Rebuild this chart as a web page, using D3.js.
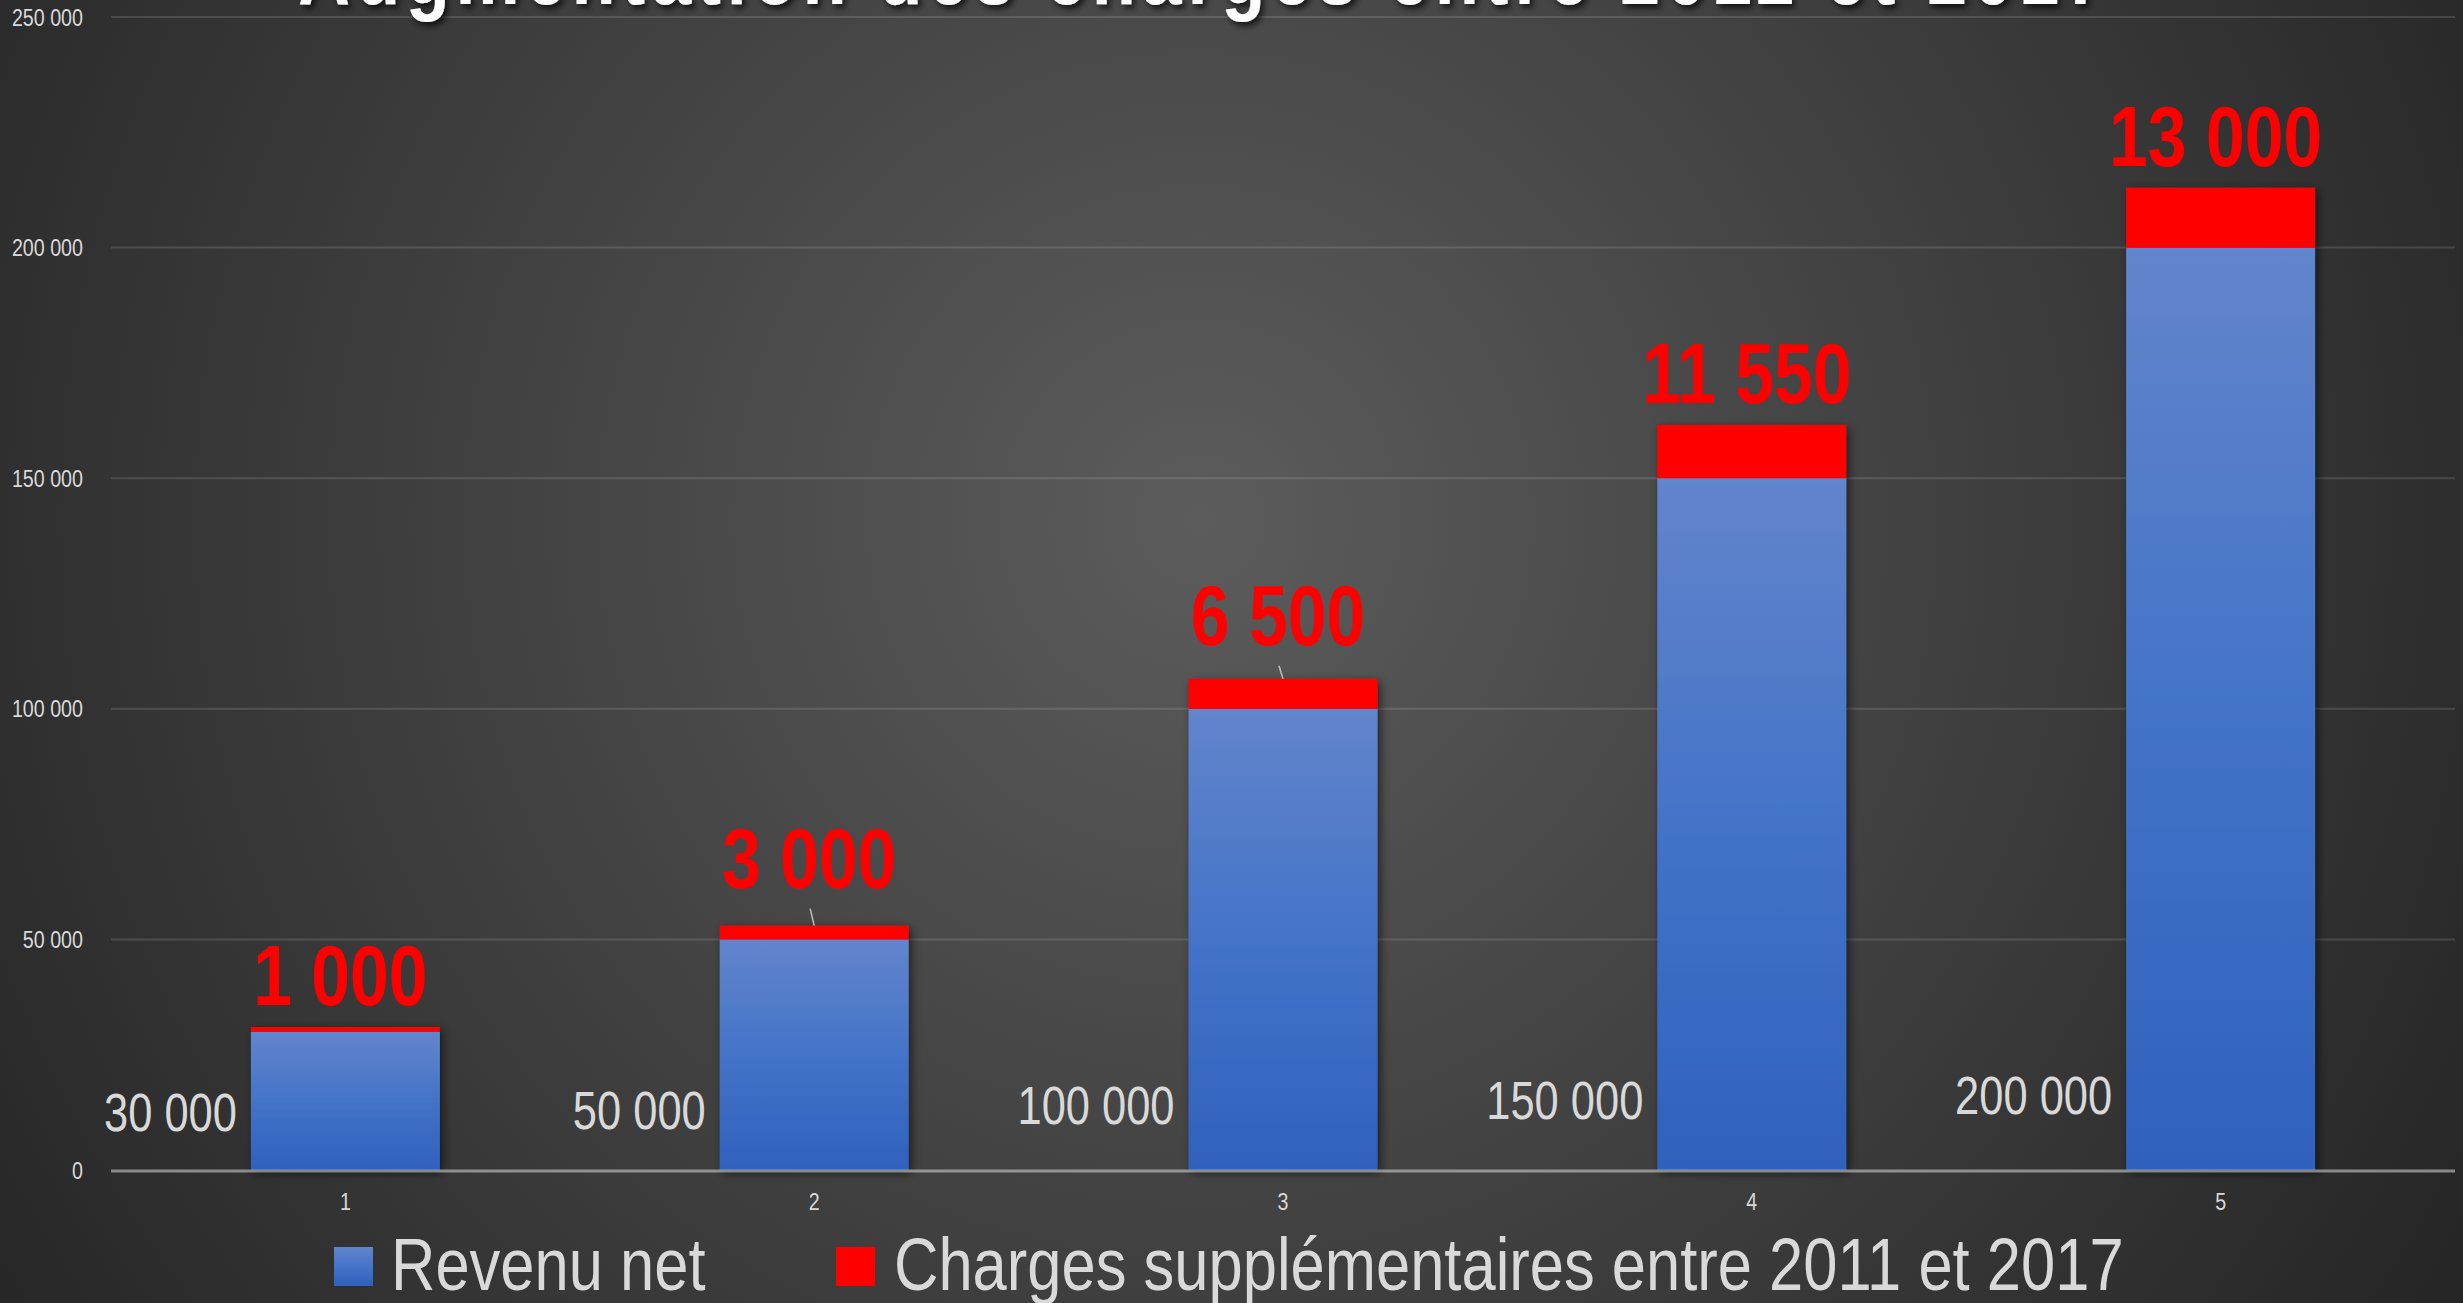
<!DOCTYPE html>
<html>
<head>
<meta charset="utf-8">
<script src="https://cdn.jsdelivr.net/npm/d3@7"></script>
<style>
  html, body { margin: 0; padding: 0; background: #2a2a2a; overflow: hidden; }
  svg { display: block; }
</style>
</head>
<body>
<script>
// ---------- DATA ----------
const title = "Augmentation des charges entre 2011 et 2017";
const categories = ["1", "2", "3", "4", "5"];
const revenuNet = [30000, 50000, 100000, 150000, 200000];
const charges = [1000, 3000, 6500, 11550, 13000];
const yTicks = [0, 50000, 100000, 150000, 200000, 250000];
const seriesNames = ["Revenu net", "Charges supplémentaires entre 2011 et 2017"];

// ---------- LAYOUT ----------
const W = 2463, H = 1303;
const NARROW = 0.82;
const plot = { left: 111, right: 2455, top: 17, bottom: 1170 };
const labelLift = [0, 16, 12, 0, 0];   // manually moved data labels (leader lines)

const fr = d3.formatLocale({ decimal: ",", thousands: " ", grouping: [3], currency: ["", " €"] });
const fmt = fr.format(",");

const svg = d3.select("body").append("svg").attr("width", W).attr("height", H);
const defs = svg.append("defs");

const bg = defs.append("radialGradient").attr("id", "bg")
  .attr("gradientUnits", "userSpaceOnUse").attr("cx", 1200).attr("cy", 520).attr("r", 1450);
bg.append("stop").attr("offset", "0%").attr("stop-color", "#5c5c5c");
bg.append("stop").attr("offset", "100%").attr("stop-color", "#262626");

const bl = defs.append("linearGradient").attr("id", "blue").attr("x1", 0).attr("y1", 0).attr("x2", 0).attr("y2", 1);
bl.append("stop").attr("offset", "0%").attr("stop-color", "#6285cc");
bl.append("stop").attr("offset", "50%").attr("stop-color", "#4473c8");
bl.append("stop").attr("offset", "100%").attr("stop-color", "#2f61bd");

const sh = defs.append("filter").attr("id", "shadow").attr("x", "-20%").attr("y", "-20%").attr("width", "140%").attr("height", "140%");
sh.append("feDropShadow").attr("dx", 3).attr("dy", 3).attr("stdDeviation", 5).attr("flood-color", "#000").attr("flood-opacity", 0.55);
const tsh = defs.append("filter").attr("id", "tshadow").attr("x", "-10%").attr("y", "-50%").attr("width", "120%").attr("height", "200%");
tsh.append("feDropShadow").attr("dx", 3).attr("dy", 4).attr("stdDeviation", 3).attr("flood-color", "#000").attr("flood-opacity", 0.7);

svg.append("rect").attr("width", W).attr("height", H).attr("fill", "url(#bg)");

const x = d3.scaleBand().domain(categories).range([plot.left, plot.right])
  .paddingInner(0.597).paddingOuter(0.2985);
const y = d3.scaleLinear().domain([0, 250000]).range([plot.bottom, plot.top]);

function ntext(parent, px, py, str, anchor, size, weight, fill) {
  const g = parent.append("g").attr("transform", `translate(${px},${py}) scale(${NARROW},1)`);
  return g.append("text").attr("x", 0).attr("y", 0)
    .attr("text-anchor", anchor)
    .attr("font-family", "'Liberation Sans', Arial, sans-serif")
    .attr("font-size", size).attr("font-weight", weight)
    .attr("fill", fill).text(str);
}

// gridlines
svg.append("g").selectAll("line").data(yTicks.filter(d => d > 0)).join("line")
  .attr("x1", plot.left).attr("x2", plot.right)
  .attr("y1", d => y(d)).attr("y2", d => y(d))
  .attr("stroke", "rgba(217,217,217,0.16)").attr("stroke-width", 2);

// y tick labels
const yl = svg.append("g");
yTicks.forEach(t => ntext(yl, 83, y(t) + 8.5, fmt(t), "end", 24, "normal", "#d9d9d9"));

// bars
const bars = svg.append("g").attr("filter", "url(#shadow)");
categories.forEach((c, i) => {
  bars.append("rect").attr("x", x(c)).attr("width", x.bandwidth())
    .attr("y", y(revenuNet[i])).attr("height", y(0) - y(revenuNet[i]))
    .attr("fill", "url(#blue)");
  bars.append("rect").attr("x", x(c)).attr("width", x.bandwidth())
    .attr("y", y(revenuNet[i] + charges[i])).attr("height", y(revenuNet[i]) - y(revenuNet[i] + charges[i]))
    .attr("fill", "#ff0000");
});

// axis line
svg.append("line").attr("x1", plot.left).attr("x2", plot.right)
  .attr("y1", y(0) + 1).attr("y2", y(0) + 1)
  .attr("stroke", "rgba(217,217,217,0.55)").attr("stroke-width", 3);

// x tick labels
const xl = svg.append("g");
categories.forEach(c => ntext(xl, x(c) + x.bandwidth() / 2, 1210, c, "middle", 24, "normal", "#d9d9d9"));

// revenue labels
const rl = svg.append("g");
categories.forEach((c, i) => {
  const by = y(0) - 36 - 0.0217 * (y(0) - y(revenuNet[i]));
  ntext(rl, x(c) - 14, by, fmt(revenuNet[i]), "end", 53, "normal", "#d9d9d9");
});

// charge labels + leader lines
const cl = svg.append("g");
categories.forEach((c, i) => {
  const top = y(revenuNet[i] + charges[i]);
  const cx = x(c) + x.bandwidth() / 2;
  const base = top - 22 - labelLift[i];
  if (labelLift[i] > 0) {
    cl.append("line").attr("x1", cx - 4).attr("y1", base + 21).attr("x2", cx).attr("y2", top)
      .attr("stroke", "#bfbfbf").attr("stroke-width", 1.5);
  }
  ntext(cl, cx - 5, base, fmt(charges[i]), "middle", 85, "bold", "#ff0000");
});

// title
const tg = svg.append("g").attr("filter", "url(#tshadow)");
ntext(tg, 298, 4, title, "start", 88, "bold", "#ffffff")
  .attr("textLength", 1807 / NARROW).attr("lengthAdjust", "spacing");

// legend
const lg = svg.append("g");
lg.append("rect").attr("x", 334).attr("y", 1247).attr("width", 39).attr("height", 39).attr("fill", "url(#blue)");
ntext(lg, 391, 1290, seriesNames[0], "start", 75, "normal", "#d9d9d9");
lg.append("rect").attr("x", 836).attr("y", 1247).attr("width", 39).attr("height", 39).attr("fill", "#ff0000");
ntext(lg, 894, 1290, seriesNames[1], "start", 75, "normal", "#d9d9d9");
</script>
</body>
</html>
